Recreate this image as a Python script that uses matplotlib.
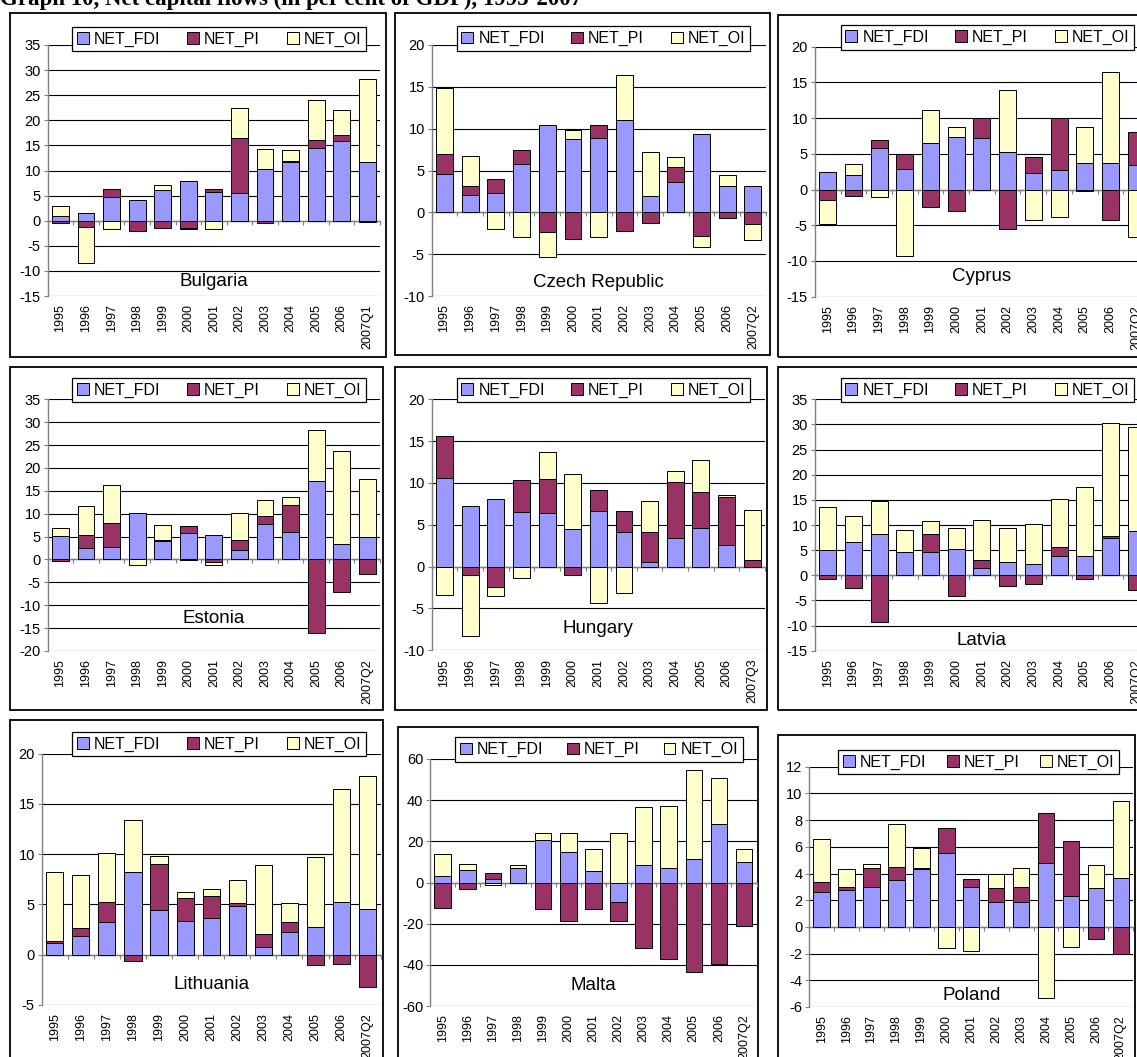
import numpy as np
import matplotlib
matplotlib.use("Agg")
import matplotlib.pyplot as plt
from matplotlib.patches import Rectangle, Patch
from matplotlib.transforms import blended_transform_factory

plt.rcParams['font.family'] = ['Liberation Sans', 'DejaVu Sans']
plt.rcParams['axes.unicode_minus'] = False

# ---------------- data ----------------
years = ["1995", "1996", "1997", "1998", "1999", "2000", "2001", "2002",
         "2003", "2004", "2005", "2006"]
series_names = ["NET_FDI", "NET_PI", "NET_OI"]
series_colors = ["#9999FF", "#993366", "#FFFFCC"]

bulgaria_fdi = [0.9, 1.5, 4.7, 4.2, 6.2, 7.9, 5.8, 5.6, 10.3, 11.6, 14.5, 15.8, 11.6]
bulgaria_pi = [-0.4, -1.3, 1.6, -2.0, -1.5, -1.5, 0.6, 10.8, -0.5, 0.3, 1.5, 1.2, -0.2]
bulgaria_oi = [2.0, -7.2, -1.7, -0.1, 0.9, -0.1, -1.7, 6.0, 4.0, 2.2, 8.0, 5.1, 16.7]

czech_fdi = [4.6, 2.1, 2.3, 5.8, 10.4, 8.8, 8.9, 11.0, 2.0, 3.6, 9.4, 3.2, 3.2]
czech_pi = [2.4, 1.1, 1.7, 1.7, -2.3, -3.2, 1.5, -2.2, -1.3, 1.8, -2.8, -0.7, -1.4]
czech_oi = [7.9, 3.5, -2.0, -2.9, -3.0, 1.1, -2.9, 5.4, 5.2, 1.2, -1.4, 1.3, -1.9]

cyprus_fdi = [2.5, 2.1, 5.8, 2.9, 6.5, 7.3, 7.2, 5.3, 2.3, 2.7, 3.7, 3.7, 3.4]
cyprus_pi = [-1.4, -0.9, 1.2, 2.1, -2.5, -3.0, 2.8, -5.5, 2.2, 7.3, -0.2, -4.2, 4.7]
cyprus_oi = [-3.4, 1.5, -1.0, -9.3, 4.6, 1.5, 0.0, 8.6, -4.3, -3.9, 5.1, 12.8, -6.7]

estonia_fdi = [5.2, 2.4, 2.7, 10.2, 4.0, 5.7, 5.4, 2.0, 7.7, 5.9, 17.1, 3.4, 4.9]
estonia_pi = [-0.4, 3.0, 5.3, 0.0, 0.3, 1.6, -0.5, 2.3, 1.8, 6.1, -16.1, -7.2, -3.2]
estonia_oi = [1.6, 6.2, 8.2, -1.1, 3.2, -0.2, -0.6, 5.9, 3.4, 1.7, 11.3, 20.2, 12.6]

hungary_fdi = [10.6, 7.2, 8.1, 6.5, 6.4, 4.5, 6.7, 4.1, 0.6, 3.4, 4.6, 2.6, 0.0]
hungary_pi = [5.0, -1.0, -2.4, 3.9, 4.1, -1.0, 2.5, 2.6, 3.5, 6.7, 4.3, 5.7, 0.8]
hungary_oi = [-3.4, -7.3, -1.1, -1.3, 3.2, 6.6, -4.3, -3.1, 3.8, 1.3, 3.8, 0.3, 6.0]

latvia_fdi = [5.0, 6.6, 8.3, 4.6, 4.6, 5.2, 1.4, 2.7, 2.3, 3.8, 3.8, 7.5, 8.8]
latvia_pi = [-0.7, -2.5, -9.2, 0.0, 3.7, -4.2, 1.6, -2.1, -1.8, 1.9, -0.7, 0.3, -2.9]
latvia_oi = [8.5, 5.2, 6.5, 4.4, 2.4, 4.2, 7.9, 6.7, 7.9, 9.4, 13.7, 22.4, 20.6]

lithuania_fdi = [1.1, 1.8, 3.2, 8.2, 4.4, 3.3, 3.6, 4.8, 0.7, 2.2, 2.7, 5.2, 4.5]
lithuania_pi = [0.2, 0.8, 2.0, -0.6, 4.6, 2.3, 2.2, 0.3, 1.3, 1.0, -1.0, -0.9, -3.2]
lithuania_oi = [6.9, 5.3, 4.9, 5.2, 0.8, 0.6, 0.7, 2.3, 6.9, 1.9, 7.0, 11.3, 13.3]

malta_fdi = [3.4, 5.9, 1.5, 7.0, 20.5, 15.0, 5.8, -9.5, 8.4, 7.0, 11.5, 28.5, 9.8]
malta_pi = [-12.4, -3.2, 3.0, -0.3, -13.0, -18.5, -13.0, -9.0, -32.0, -37.4, -43.5, -39.8, -21.3]
malta_oi = [10.6, 3.2, -1.0, 1.5, 3.6, 9.0, 10.5, 24.0, 28.1, 30.4, 43.0, 22.5, 6.6]

poland_fdi = [2.6, 2.8, 3.0, 3.5, 4.3, 5.5, 3.0, 1.9, 1.9, 4.8, 2.3, 2.9, 3.7]
poland_pi = [0.8, 0.2, 1.4, 1.0, 0.1, 1.9, 0.6, 1.0, 1.1, 3.7, 4.1, -0.9, -2.0]
poland_oi = [3.2, 1.3, 0.3, 3.2, 1.5, -1.6, -1.8, 1.1, 1.4, -5.3, -1.5, 1.7, 5.7]

countries = ["Bulgaria", "Czech Republic", "Cyprus", "Estonia", "Hungary",
             "Latvia", "Lithuania", "Malta", "Poland"]
last_period = ["2007Q1", "2007Q2", "2007Q2", "2007Q2", "2007Q3",
               "2007Q2", "2007Q2", "2007Q2", "2007Q2"]
country_series = [
    (bulgaria_fdi, bulgaria_pi, bulgaria_oi),
    (czech_fdi, czech_pi, czech_oi),
    (cyprus_fdi, cyprus_pi, cyprus_oi),
    (estonia_fdi, estonia_pi, estonia_oi),
    (hungary_fdi, hungary_pi, hungary_oi),
    (latvia_fdi, latvia_pi, latvia_oi),
    (lithuania_fdi, lithuania_pi, lithuania_oi),
    (malta_fdi, malta_pi, malta_oi),
    (poland_fdi, poland_pi, poland_oi),
]
y_ranges = [(-15, 35, 5), (-10, 20, 5), (-15, 20, 5), (-20, 35, 5), (-10, 20, 5),
            (-15, 35, 5), (-5, 20, 5), (-60, 60, 20), (-6, 12, 2)]

title = "Graph 10, Net capital flows (in per cent of GDP), 1995-2007"

# ---------------- layout (pixels) ----------------
W, H = 1137, 1057
# border box, axes box, legend box (left, top, right, bottom) and label y (axes fraction)
layout = [
    ((10, 13, 386, 357), (47.7, 45, 380, 296), (72, 27, 366, 51), 0.056),
    ((395, 13, 770, 355), (431.7, 45, 765.7, 296), (456.7, 27, 750, 50), 0.053),
    ((778, 15, 1150, 357), (814.8, 46.7, 1149, 296.7), (840.7, 23, 1134, 51.7), 0.08),
    ((10, 367, 383, 710), (47.7, 399.3, 380, 651), (72, 375, 366, 405), 0.13),
    ((395, 367, 767, 710), (431.7, 399.3, 765, 650.3), (456.7, 375, 750, 405), 0.085),
    ((778, 367, 1150, 710), (814.8, 399.3, 1149, 650.7), (840.7, 375, 1134, 405), 0.042),
    ((10, 720, 383, 1070), (41.7, 753.7, 380.7, 1004.7), (72, 729, 366, 759), 0.081),
    ((398, 727, 758, 1070), (430.1, 759, 756.6, 1006), (455, 735, 742.7, 764), 0.085),
    ((778, 735, 1135, 1070), (809.2, 766.7, 1133.2, 1007), (838.3, 750, 1119.3, 774), 0.046),
]


def fx(x):
    return x / W


def fy(y):
    return 1 - y / H


fig = plt.figure(figsize=(W / 100, H / 100), dpi=100)
fig.patch.set_facecolor("white")

fig.text(fx(0), fy(5), title, fontsize=16.5, fontweight="bold",
         family=["Liberation Serif", "DejaVu Serif"], ha="left", va="baseline")

for idx, name in enumerate(countries):
    border, abox, lbox, lab_y = layout[idx]
    # panel border
    fig.add_artist(Rectangle((fx(border[0]), fy(border[3])),
                             (border[2] - border[0]) / W, (border[3] - border[1]) / H,
                             transform=fig.transFigure, fill=False,
                             edgecolor="black", linewidth=1.3, zorder=0))
    ax = fig.add_axes([fx(abox[0]), fy(abox[3]),
                       (abox[2] - abox[0]) / W, (abox[3] - abox[1]) / H])
    ax.set_facecolor("none")
    cats = years + [last_period[idx]]
    x = np.arange(len(cats))
    pos_base = np.zeros(len(cats))
    neg_base = np.zeros(len(cats))
    for s, (vals, col, lab) in enumerate(zip(country_series[idx], series_colors, series_names)):
        v = np.array(vals, dtype=float)
        bottom = np.where(v >= 0, pos_base, neg_base)
        ax.bar(x, v, bottom=bottom, width=0.66, color=col, edgecolor="black",
               linewidth=0.7, zorder=3, label=lab)
        pos_base = pos_base + np.where(v > 0, v, 0)
        neg_base = neg_base + np.where(v < 0, v, 0)

    lo, hi, step = y_ranges[idx]
    ax.set_ylim(lo, hi)
    ax.set_yticks(np.arange(lo, hi + step / 2, step))
    ax.set_xlim(-0.5, len(cats) - 0.5)
    ax.yaxis.grid(True, color="black", linewidth=0.8, zorder=0)
    ax.set_axisbelow(True)
    for sp in ["top", "right"]:
        ax.spines[sp].set_visible(False)
    ax.spines["left"].set_color("#808080")
    ax.spines["left"].set_linewidth(1.0)
    ax.spines["bottom"].set_position(("data", 0))
    ax.spines["bottom"].set_color("#808080")
    ax.spines["bottom"].set_linewidth(1.0)
    ax.spines["bottom"].set_zorder(2)
    ax.set_xticks(np.arange(-0.5, len(cats), 1.0))
    ax.tick_params(axis="x", length=3, direction="out", color="#808080",
                   labelbottom=False)
    ax.tick_params(axis="y", length=3, direction="out", color="#808080",
                   labelsize=10.5, pad=2)

    sec = ax.secondary_xaxis(0.0)
    sec.set_xticks(x)
    sec.set_xticklabels(cats, rotation=90, fontsize=9)
    sec.tick_params(length=0, pad=6)
    sec.spines["bottom"].set_visible(False)

    ax.text(6, lab_y, name, fontsize=13.5, ha="center", va="center",
            transform=blended_transform_factory(ax.transData, ax.transAxes),
            zorder=5)

    handles = [Patch(facecolor=c, edgecolor="black", linewidth=0.7) for c in series_colors]
    leg = ax.legend(handles, series_names, ncol=3, loc="center", mode="expand",
                    bbox_to_anchor=(fx(lbox[0]), fy(lbox[3]),
                                    (lbox[2] - lbox[0]) / W, (lbox[3] - lbox[1]) / H),
                    bbox_transform=fig.transFigure, borderaxespad=0,
                    fontsize=11.5, handlelength=0.75, handleheight=0.75,
                    handletextpad=0.3, borderpad=0.3, fancybox=False,
                    framealpha=1, edgecolor="black")
    leg.get_frame().set_linewidth(0.9)
    leg.set_zorder(10)

fig.savefig("out.png", dpi=100, facecolor="white")
